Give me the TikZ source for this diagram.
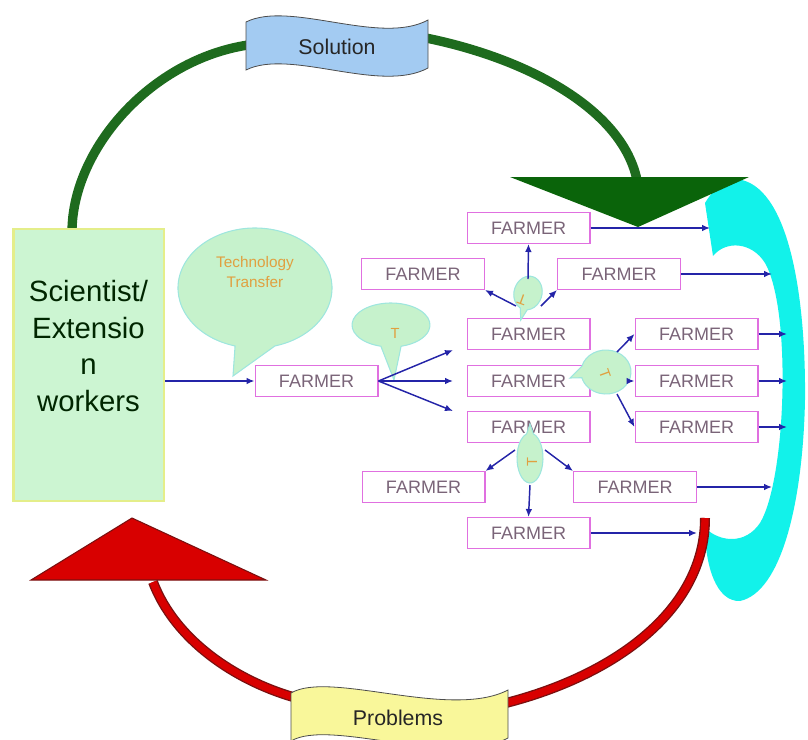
\documentclass[tikz,border=0pt]{standalone}
\usepackage{fontspec}
\setmainfont{Liberation Sans}
\usetikzlibrary{arrows.meta}
\definecolor{solgreen}{HTML}{1E6B1E}
\definecolor{headgreen}{HTML}{0A640A}
\definecolor{probred}{HTML}{D80000}
\definecolor{probedge}{HTML}{7A1010}
\definecolor{loopcyan}{HTML}{12F2EA}
\definecolor{solblue}{HTML}{A3CBF2}
\definecolor{probyellow}{HTML}{F9F79A}
\definecolor{scifill}{HTML}{CCF5D2}
\definecolor{sciedge}{HTML}{E4EE8A}
\definecolor{callfill}{HTML}{C6F2CC}
\definecolor{calledge}{HTML}{9EE6DE}
\definecolor{boxpink}{HTML}{E070E0}
\definecolor{farmertext}{HTML}{7A6478}
\definecolor{flowblue}{HTML}{2424A8}
\definecolor{tiporange}{HTML}{E0A040}
\tikzset{
FARMER/.style={draw=boxpink,line width=1pt,minimum width=92pt,minimum height=23pt,inner sep=0pt,text=farmertext,font=\fontsize{13.5}{14}\selectfont},
FLOW/.style={draw=flowblue,line width=1.1pt,-{Latex[length=6pt,width=5pt]}},
CALLOUT/.style={fill=callfill,draw=calledge,line width=0.8pt},
GLYPH/.style={text=tiporange,inner sep=0pt,font=\fontsize{11}{12}\selectfont},
BANNER/.style={draw=black!70,line width=0.6pt},
GREENARC/.style={draw=solgreen,line width=7pt},
REDARC/.style={draw=probedge,line width=7.5pt,postaction={draw=probred,line width=5.5pt}},
}
% callout: centre x, centre y, rotation, x radius, y radius, tail tip
\newcommand{\callout}[6]{%
\begin{scope}[shift={(#1,#2)},rotate=#3]
	\path[CALLOUT] (105:#4 and #5) arc[start angle=105,end angle=435,x radius=#4,y radius=#5] -- (#6) -- cycle;
\end{scope}}

\begin{document}
\begin{tikzpicture}[x=0.75pt,y=-0.75pt]
	\useasboundingbox (0,0) rectangle (808,740);
	% big loop
	\fill[loopcyan] (705,203) .. controls (715,186) and (728,179) .. (742,180)
		.. controls (790,192) and (806,300) .. (805,400)
		.. controls (803,500) and (782,592) .. (740,601)
		.. controls (716,602) and (705,565) .. (705,528)
		.. controls (720,542) and (745,545) .. (760,523)
		.. controls (786,480) and (792,310) .. (765,263)
		.. controls (752,242) and (726,240) .. (713,256) -- cycle;
	\path[GREENARC] (72,232) .. controls (72,150) and (150,60) .. (248,45);
	\path[GREENARC] (426,38) .. controls (525,58) and (622,108) .. (637,180);
	\fill[headgreen] (510,177) -- (749,177) -- (638,227) -- cycle;
	\path[REDARC] (153,582) .. controls (175,640) and (235,680) .. (293,697);
	\path[REDARC] (506,703) .. controls (615,675) and (705,610) .. (705,518);
	\path[fill=probred,draw=probedge,line width=0.8pt] (31,580) -- (266,580) -- (132,518) -- cycle;
	% banners
	\path[BANNER,fill=solblue] (246,22) .. controls (290,0) and (380,46) .. (428,20) -- (428,68) .. controls (380,94) and (290,48) .. (246,70) -- cycle;
	\node[font=\fontsize{16}{18}\selectfont,text=black!85] (sol) at (337,47) {Solution};
	\path[BANNER,fill=probyellow] (291,693) .. controls (330,670) and (450,720) .. (508,690) -- (508,738) .. controls (450,768) and (330,718) .. (291,741) -- cycle;
	\node[font=\fontsize{16}{18}\selectfont,text=black!85] (prob) at (398,718) {Problems};
	% scientist
	\node[draw=sciedge,fill=scifill,line width=2pt,minimum width=113pt,minimum height=204pt] (sci) at (88.5,365) {};
	\node[align=center,font=\fontsize{22}{27.5}\selectfont,text=black!85!green] (scitext) at (88.5,346) {Scientist/\\Extensio\\n\\workers};
	% farmers
	\node[FARMER] (f0) at (316.5,381) {FARMER};
	\node[FARMER] (f1) at (528.5,228) {FARMER};
	\node[FARMER] (f2) at (423,274) {FARMER};
	\node[FARMER] (f3) at (619,274) {FARMER};
	\node[FARMER] (f4) at (528.5,334) {FARMER};
	\node[FARMER] (f5) at (528.5,381) {FARMER};
	\node[FARMER] (f6) at (528.5,427) {FARMER};
	\node[FARMER] (f7) at (696.5,334) {FARMER};
	\node[FARMER] (f8) at (696.5,381) {FARMER};
	\node[FARMER] (f9) at (696.5,427) {FARMER};
	\node[FARMER] (f10) at (423.5,487) {FARMER};
	\node[FARMER] (f11) at (635,487) {FARMER};
	\node[FARMER] (f12) at (528.5,533) {FARMER};
	% callouts
	\callout{255}{288}{0}{77}{60}{-22,88}
	\node[align=center,text=tiporange,font=\fontsize{11.5}{15}\selectfont] (tt) at (255,272) {Technology\\Transfer};
	\callout{391}{325}{0}{39}{22}{3,55}
	\callout{528}{293}{-15}{14}{17}{0,28}
	\callout{606}{372}{-90}{22}{25}{6,36}
	\callout{530}{458}{180}{13}{25}{0,34}
	\node[GLYPH] (gT) at (395,333) {T};
	\node[GLYPH,rotate=160] (gA) at (522,300) {T};
	\node[GLYPH,rotate=-70] (gL) at (605,374) {T};
	\node[GLYPH,rotate=90] (gY) at (532,462) {T};
	% arrow ends
	\coordinate (t1) at (453,350);
	\coordinate (t2) at (453,381);
	\coordinate (t3) at (453,411);
	\coordinate (aU) at (528,279);
	\coordinate (aL) at (516,306);
	\coordinate (aR) at (541,306);
	\coordinate (lU) at (617,352);
	\coordinate (lM) at (630,381);
	\coordinate (lD) at (617,394);
	\coordinate (yL) at (515,450);
	\coordinate (yR) at (545,450);
	\coordinate (yD) at (530,485);
	\coordinate (e1) at (710,228);
	\coordinate (e3) at (772,274);
	\coordinate (e7) at (787,334);
	\coordinate (e8) at (787,381);
	\coordinate (e9) at (787,427);
	\coordinate (e11) at (772,487);
	\coordinate (e12) at (697,533);
	% arrows
	\draw[FLOW] (sci.east |- f0.west) -- (f0.west);
	\foreach \t in {t1,t2,t3}
		\draw[FLOW] (f0.east) -- (\t);
	\draw[FLOW] (aU) -- (f1.south);
	\draw[FLOW] (aL) -- (f2.south east);
	\draw[FLOW] (aR) -- (f3.south west);
	\draw[FLOW] (lU) -- (f7.west);
	\draw[FLOW] (lM) -- (f8.west);
	\draw[FLOW] (lD) -- (f9.west);
	\draw[FLOW] (yL) -- (f10.north east);
	\draw[FLOW] (yR) -- (f11.north west);
	\draw[FLOW] (yD) -- (f12.north);
	\foreach \f/\e in {f1/e1,f3/e3,f7/e7,f8/e8,f9/e9,f11/e11,f12/e12}
		\draw[FLOW] (\f.east) -- (\e);
\end{tikzpicture}
\end{document}
